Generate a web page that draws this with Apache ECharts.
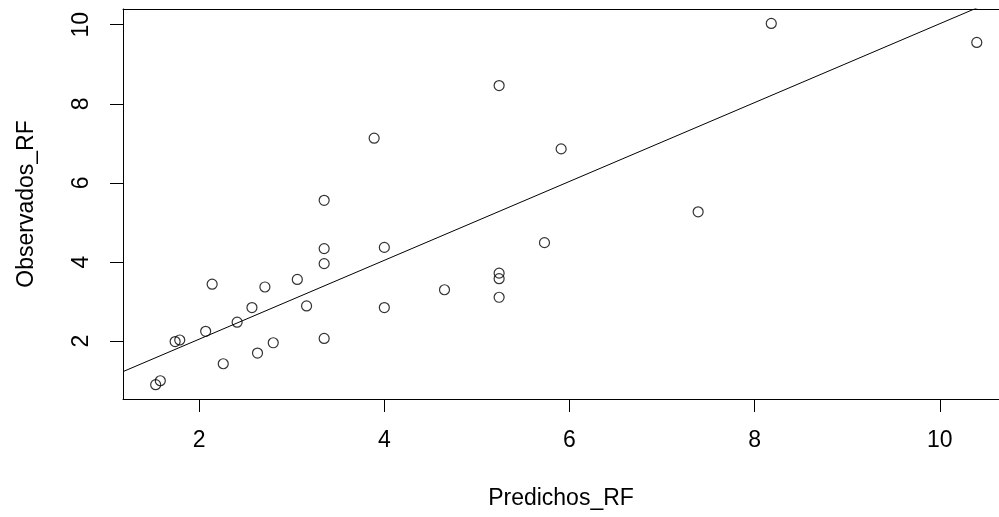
<!DOCTYPE html>
<html lang="es">

<head>
    <meta charset="UTF-8">
    <title>Observados vs Predichos RF</title>
    <script src="https://cdn.jsdelivr.net/npm/echarts@6/dist/echarts.min.js"></script>
    <style>
        html, body { margin: 0; padding: 0; background: #fff; }
    </style>
</head>

<body>
    <div id="main" style="width: 999px;height: 517px;"></div>
</body>
<script type="text/javascript">
    // valores
    var predichos = [1.53, 1.58, 1.74, 1.79, 2.07, 2.14, 2.26, 2.41, 2.57, 2.63, 2.71, 2.80, 3.06, 3.16,
        3.35, 3.35, 3.35, 3.35, 3.89, 4.00, 4.00, 4.65, 5.24, 5.24, 5.24, 5.24, 5.73, 5.91, 7.39, 8.18, 10.40];
    var observados = [0.90, 1.00, 1.99, 2.03, 2.25, 3.44, 1.43, 2.48, 2.85, 1.70, 3.37, 1.96, 3.56, 2.89,
        5.56, 4.34, 3.96, 2.07, 7.13, 4.37, 2.85, 3.30, 8.46, 3.72, 3.58, 3.11, 4.49, 6.86, 5.27, 10.03, 9.55];

    // abline del ajuste lineal
    var ajuste = { intercepto: 0.058, pendiente: 0.9965 };

    var ticksX = [2, 4, 6, 8, 10];
    var ticksY = [2, 4, 6, 8, 10];

    // la caja de R sigue mas alla del borde derecho; se corta en x = 10.64
    var xMin = 1.177, xMax = 10.64;
    var yMin = 0.539, yMax = 10.395;

    var puntos = predichos.map(function (x, i) { return [x, observados[i]]; });
    var linea = [xMin, xMax].map(function (x) { return [x, ajuste.intercepto + ajuste.pendiente * x]; });

    var chart = echarts.init(document.getElementById('main'));

    var fuente = 'Liberation Sans, Arial, sans-serif';
    var negro = { color: '#000', width: 1 };

    var option = {
        animation: false,
        backgroundColor: '#fff',
        grid: {
            left: 123,
            top: 9,
            width: 876,
            height: 390,
            containLabel: false,
            show: false,
        },
        xAxis: [
            {
                type: 'value',
                min: xMin,
                max: xMax,
                name: 'Predichos_RF',
                nameLocation: 'middle',
                nameGap: 88,
                nameTextStyle: { color: '#000', fontSize: 23, fontFamily: fuente },
                axisLine: { show: true, onZero: false, lineStyle: negro },
                axisTick: { show: true, length: 13, customValues: ticksX, lineStyle: negro },
                axisLabel: { customValues: ticksX, color: '#000', fontSize: 23, fontFamily: fuente, margin: 30 },
                splitLine: { show: false },
            },
            {
                // linea superior de la caja
                type: 'value',
                position: 'top',
                min: xMin,
                max: xMax,
                axisLine: { show: true, onZero: false, lineStyle: negro },
                axisTick: { show: false },
                axisLabel: { show: false },
                splitLine: { show: false },
            },
        ],
        yAxis: {
            type: 'value',
            min: yMin,
            max: yMax,
            name: 'Observados_RF',
            nameLocation: 'middle',
            nameGap: 85,
            nameTextStyle: { color: '#000', fontSize: 23, fontFamily: fuente },
            axisLine: { show: true, onZero: false, lineStyle: negro },
            axisTick: { show: true, length: 13, customValues: ticksY, lineStyle: negro },
            axisLabel: { customValues: ticksY, rotate: 90, color: '#000', fontSize: 23, fontFamily: fuente, margin: 30 },
            splitLine: { show: false },
        },
        series: [
            {
                type: 'scatter',
                data: puntos,
                symbol: 'circle',
                symbolSize: 10,
                itemStyle: { color: 'transparent', borderColor: '#000', borderWidth: 1.2 },
            },
            {
                type: 'line',
                data: linea,
                showSymbol: false,
                clip: true,
                lineStyle: negro,
            },
        ],
    };

    chart.setOption(option);
</script>

</html>
